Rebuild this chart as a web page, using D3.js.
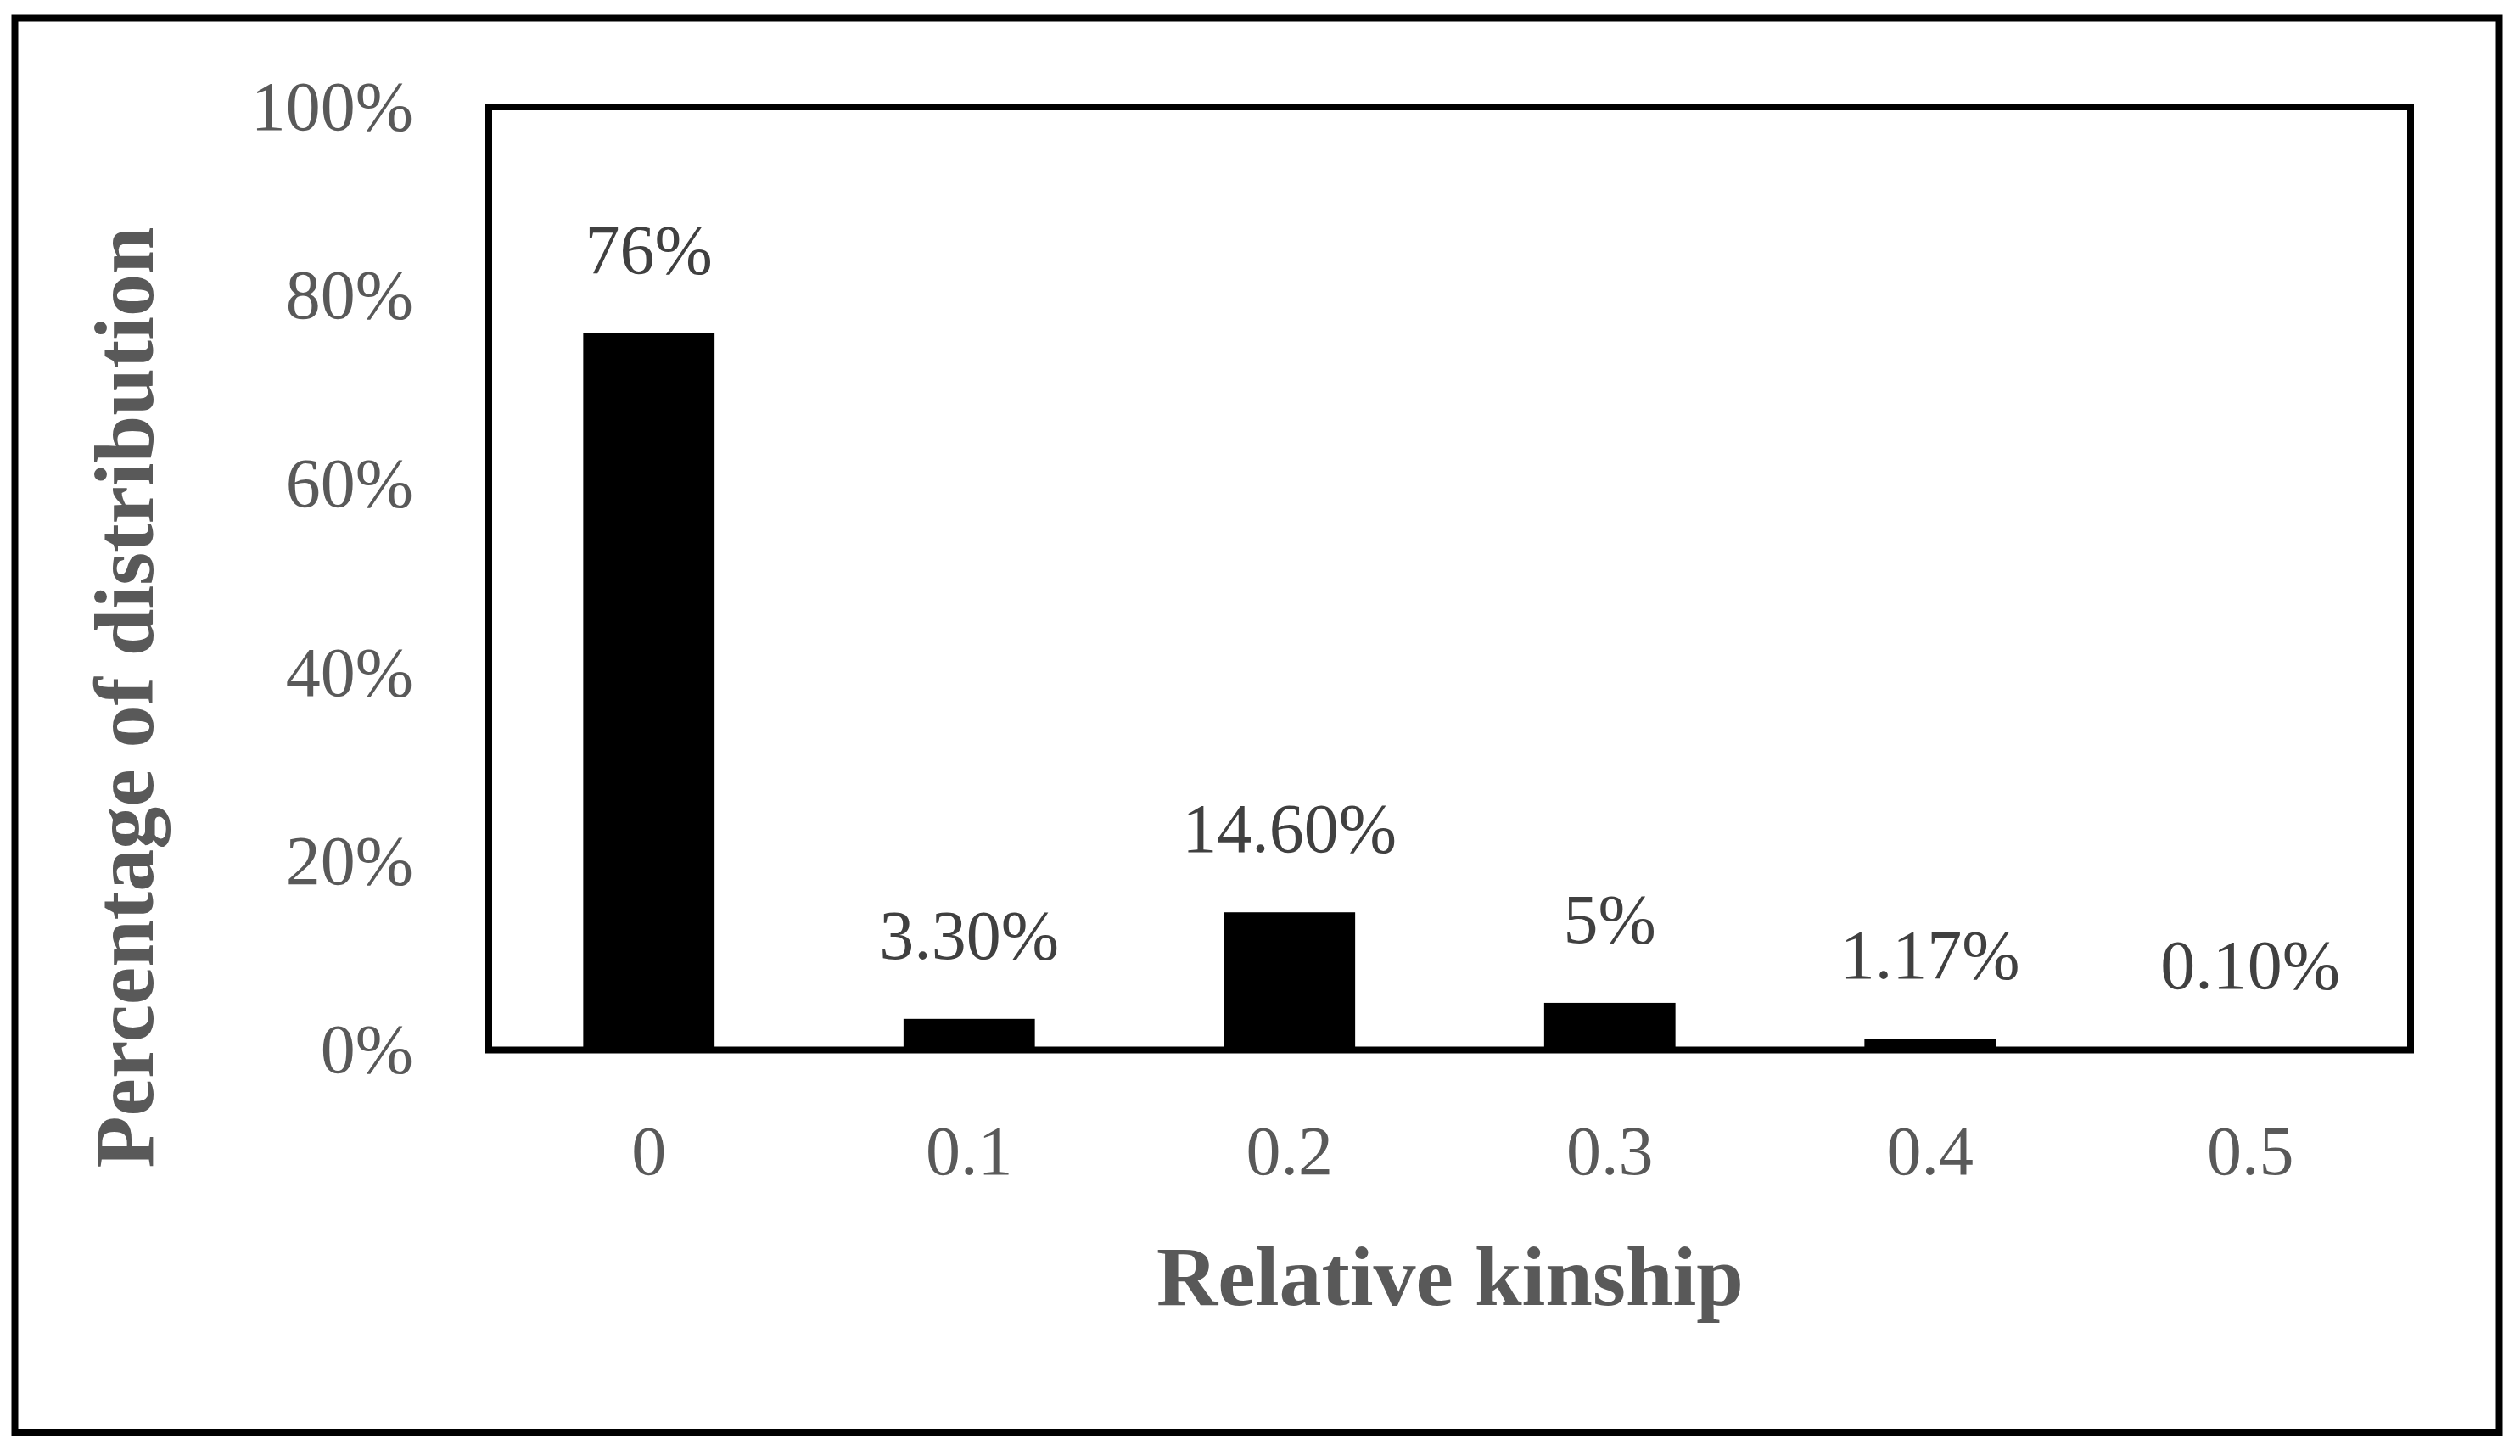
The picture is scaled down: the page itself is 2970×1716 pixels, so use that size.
<!DOCTYPE html>
<html>
<head>
<meta charset="utf-8">
<script src="https://cdn.jsdelivr.net/npm/d3@7"></script>
<style>
  html, body { margin: 0; padding: 0; background: #fff; }
  svg { display: block; }
</style>
</head>
<body>
<div id="chart"></div>
<script>
// data
const kinshipLevels = ["0", "0.1", "0.2", "0.3", "0.4", "0.5"];
const shareValues = [0.76, 0.033, 0.146, 0.05, 0.0117, 0.001];
const shareLabels = ["76%", "3.30%", "14.60%", "5%", "1.17%", "0.10%"];
const yTickValues = [0, 0.2, 0.4, 0.6, 0.8, 1.0];

const width = 2970, height = 1716;
const plot = { left: 576, top: 126, right: 2841, bottom: 1237.5 };
const fontStack = '"Palatino Linotype", "Book Antiqua", Palatino, "Liberation Serif", serif';

const svg = d3.select("#chart").append("svg")
    .attr("width", width)
    .attr("height", height)
    .style("font-family", fontStack);

// outer frame
svg.append("rect")
    .attr("x", 17.5).attr("y", 21.5)
    .attr("width", 2945.5 - 17.5)
    .attr("height", 1688 - 21.5)
    .attr("fill", "#fff")
    .attr("stroke", "#000")
    .attr("stroke-width", 8);

const x = d3.scaleBand()
    .domain(kinshipLevels)
    .range([plot.left, plot.right])
    .paddingInner(0.59)
    .paddingOuter(0.295);

const y = d3.scaleLinear()
    .domain([0, 1])
    .range([plot.bottom, plot.top]);

// bars
svg.append("g").selectAll("rect")
    .data(shareValues)
    .enter()
    .append("rect")
    .attr("x", (d, i) => x(kinshipLevels[i]))
    .attr("y", d => y(d))
    .attr("width", x.bandwidth())
    .attr("height", d => y(0) - y(d))
    .attr("fill", "#000");

// value labels above bars
svg.append("g").selectAll("text")
    .data(shareValues)
    .enter()
    .append("text")
    .attr("x", (d, i) => x(kinshipLevels[i]) + x.bandwidth() / 2)
    .attr("y", d => y(d) - 71)
    .attr("text-anchor", "middle")
    .style("font-size", "82px")
    .style("fill", "#404040")
    .text((d, i) => shareLabels[i]);

// y axis
const yAxis = svg.append("g")
    .attr("transform", `translate(${plot.left},0)`)
    .call(d3.axisLeft(y).tickValues(yTickValues).tickFormat(d3.format(".0%")).tickSize(0).tickPadding(89));
yAxis.select(".domain").remove();
yAxis.selectAll("text")
    .style("font-family", fontStack)
    .style("font-size", "82px")
    .style("fill", "#595959");

// x axis
const xAxis = svg.append("g")
    .attr("transform", `translate(0,${plot.bottom})`)
    .call(d3.axisBottom(x).tickSize(0).tickPadding(88));
xAxis.select(".domain").remove();
xAxis.selectAll("text")
    .style("font-family", fontStack)
    .style("font-size", "82px")
    .style("fill", "#595959");

// plot box
svg.append("rect")
    .attr("x", plot.left).attr("y", plot.top)
    .attr("width", plot.right - plot.left)
    .attr("height", plot.bottom - plot.top)
    .attr("fill", "none")
    .attr("stroke", "#000")
    .attr("stroke-width", 8);

// axis titles
svg.append("text")
    .attr("x", 1709).attr("y", 1538)
    .attr("text-anchor", "middle")
    .style("font-size", "100px")
    .style("font-weight", "bold")
    .style("fill", "#595959")
    .text("Relative kinship");

svg.append("text")
    .attr("transform", "translate(180,822) rotate(-90)")
    .attr("text-anchor", "middle")
    .style("font-size", "100px")
    .style("font-weight", "bold")
    .style("fill", "#595959")
    .text("Percentage of distribution");
</script>
</body>
</html>
